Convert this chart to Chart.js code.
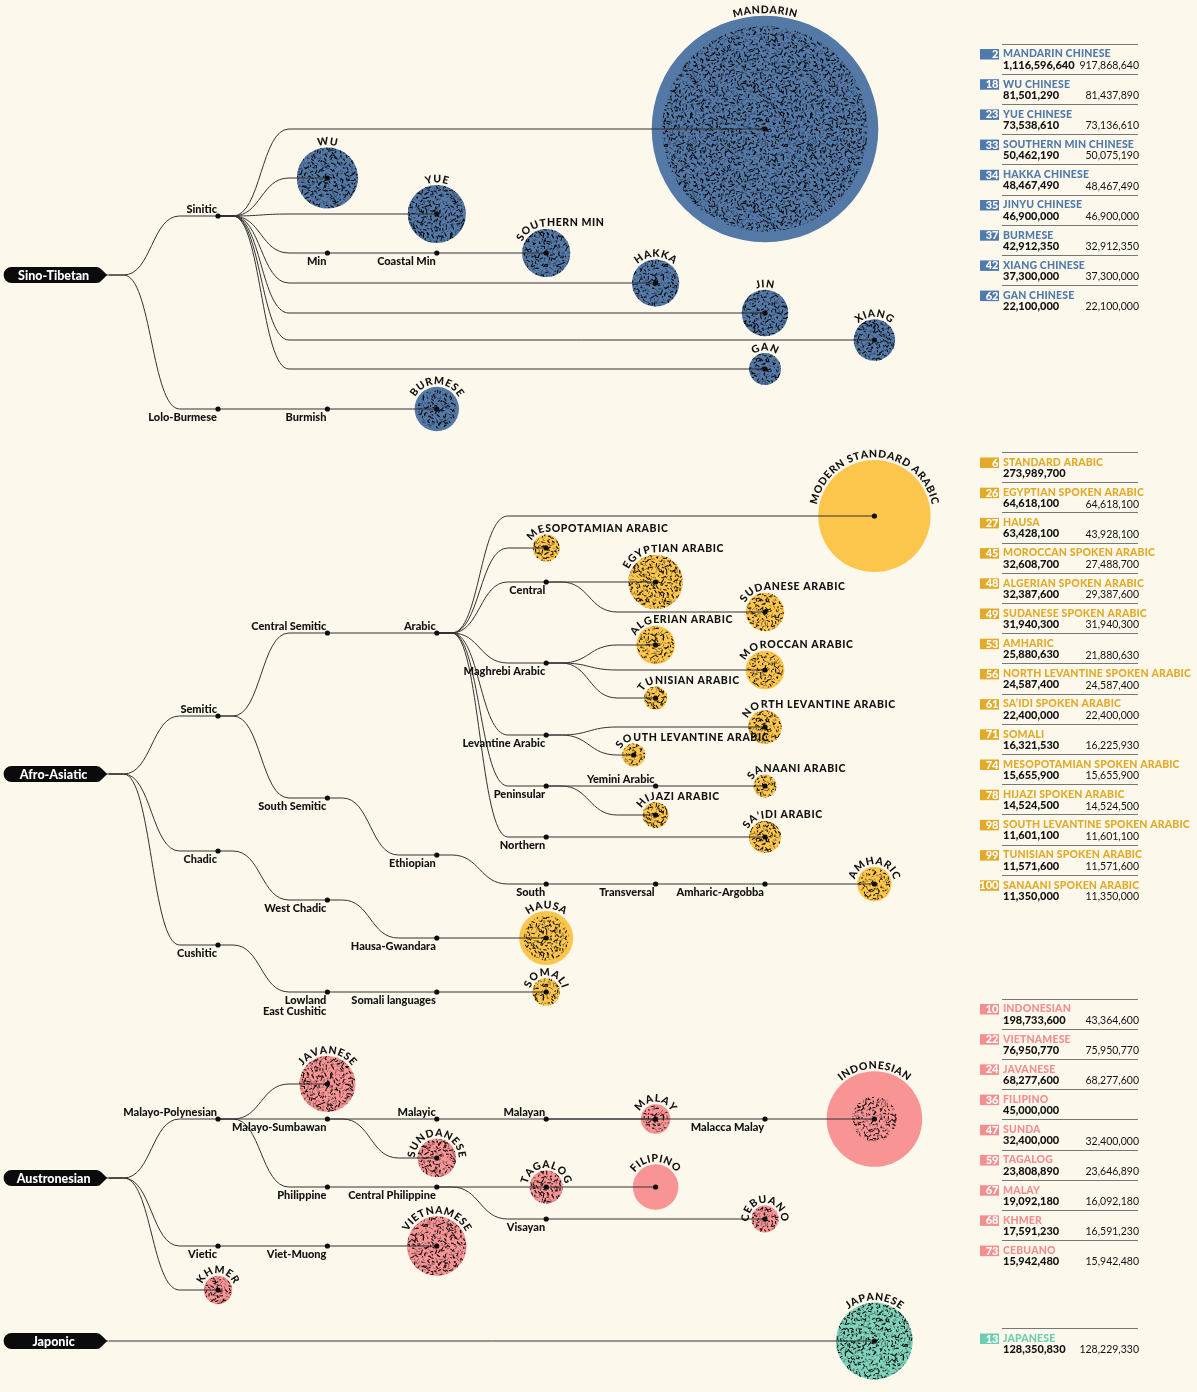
<!DOCTYPE html>
<html><head><meta charset="utf-8">
<script src="https://cdn.jsdelivr.net/npm/chart.js@4.4.1/dist/chart.umd.min.js"></script>
<style>
html,body{margin:0;padding:0;background:#fdf8ec;}
#wrap{width:1197px;height:1392px;position:relative;}
canvas{display:block;}
</style></head><body>
<div id="wrap"><canvas id="c" width="1197" height="1392"></canvas></div>
<script>
// ================= DATA =================
const FAMILIES = ['Sino-Tibetan', 'Afro-Asiatic', 'Austronesian', 'Japonic'];
const FAMILY_LEGEND_ROW = [43.5, 452, 998.5, 1328];

// languages, in legend order
const LANG_KEY = ['MANDARIN','WU','YUE','SOUTHERN MIN','HAKKA','JIN','BURMESE','XIANG','GAN',
 'MODERN STANDARD ARABIC','EGYPTIAN ARABIC','HAUSA','MOROCCAN ARABIC','ALGERIAN ARABIC','SUDANESE ARABIC','AMHARIC','NORTH LEVANTINE ARABIC','SA’IDI ARABIC','SOMALI','MESOPOTAMIAN ARABIC','HIJAZI ARABIC','SOUTH LEVANTINE ARABIC','TUNISIAN ARABIC','SANAANI ARABIC',
 'INDONESIAN','VIETNAMESE','JAVANESE','FILIPINO','SUNDANESE','TAGALOG','MALAY','KHMER','CEBUANO',
 'JAPANESE'];
const LANG_LEGEND = ['MANDARIN CHINESE','WU CHINESE','YUE CHINESE','SOUTHERN MIN CHINESE','HAKKA CHINESE','JINYU CHINESE','BURMESE','XIANG CHINESE','GAN CHINESE',
 'STANDARD ARABIC','EGYPTIAN SPOKEN ARABIC','HAUSA','MOROCCAN SPOKEN ARABIC','ALGERIAN SPOKEN ARABIC','SUDANESE SPOKEN ARABIC','AMHARIC','NORTH LEVANTINE SPOKEN ARABIC','SA’IDI SPOKEN ARABIC','SOMALI','MESOPOTAMIAN SPOKEN ARABIC','HIJAZI SPOKEN ARABIC','SOUTH LEVANTINE SPOKEN ARABIC','TUNISIAN SPOKEN ARABIC','SANAANI SPOKEN ARABIC',
 'INDONESIAN','VIETNAMESE','JAVANESE','FILIPINO','SUNDA','TAGALOG','MALAY','KHMER','CEBUANO',
 'JAPANESE'];
const LANG_FAMILY = [0,0,0,0,0,0,0,0,0,
 1,1,1,1,1,1,1,1,1,1,1,1,1,1,1,
 2,2,2,2,2,2,2,2,2,
 3];
const LANG_RANK = [2,18,23,33,34,35,37,42,62,
 6,26,27,45,48,49,53,56,61,71,74,78,98,99,100,
 10,22,24,36,47,59,67,68,73,
 13];
const LANG_TOTAL = [1116596640,81501290,73538610,50462190,48467490,46900000,42912350,37300000,22100000,
 273989700,64618100,63428100,32608700,32387600,31940300,25880630,24587400,22400000,16321530,15655900,14524500,11601100,11571600,11350000,
 198733600,76950770,68277600,45000000,32400000,23808890,19092180,17591230,15942480,
 128350830];
const LANG_L1 = [917868640,81437890,73136610,50075190,48467490,46900000,32912350,37300000,22100000,
 null,64618100,43928100,27488700,29387600,31940300,21880630,24587400,22400000,16225930,15655900,14524500,11601100,11571600,11350000,
 43364600,75950770,68277600,null,32400000,23646890,16092180,16591230,15942480,
 128229330];

// tree nodes: name, parent, column (tree depth slot), row, label kind
const NODE_NAME = [
 'Sino-Tibetan','Sinitic','MANDARIN','WU','YUE','Min','Coastal Min','SOUTHERN MIN','HAKKA','JIN','XIANG','GAN','Lolo-Burmese','Burmish','BURMESE',
 'Afro-Asiatic','Semitic','Central Semitic','Arabic','MODERN STANDARD ARABIC','MESOPOTAMIAN ARABIC','Central','EGYPTIAN ARABIC','SUDANESE ARABIC',
 'Maghrebi Arabic','ALGERIAN ARABIC','MOROCCAN ARABIC','TUNISIAN ARABIC','Levantine Arabic','NORTH LEVANTINE ARABIC','SOUTH LEVANTINE ARABIC',
 'Peninsular','Yemini Arabic','SANAANI ARABIC','HIJAZI ARABIC','Northern','SA’IDI ARABIC',
 'South Semitic','Ethiopian','South','Transversal','Amharic-Argobba','AMHARIC',
 'Chadic','West Chadic','Hausa-Gwandara','HAUSA','Cushitic','Lowland|East Cushitic','Somali languages','SOMALI',
 'Austronesian','Malayo-Polynesian','JAVANESE','Malayo-Sumbawan','Malayic','Malayan','MALAY','Malacca Malay','INDONESIAN','SUNDANESE',
 'Philippine','Central Philippine','TAGALOG','FILIPINO','Visayan','CEBUANO','Vietic','Viet-Muong','VIETNAMESE','KHMER',
 'Japonic','JAPANESE'];
const NODE_PARENT = [
 null,'Sino-Tibetan','Sinitic','Sinitic','Sinitic','Sinitic','Min','Coastal Min','Sinitic','Sinitic','Sinitic','Sinitic','Sino-Tibetan','Lolo-Burmese','Burmish',
 null,'Afro-Asiatic','Semitic','Central Semitic','Arabic','Arabic','Arabic','Central','Central',
 'Arabic','Maghrebi Arabic','Maghrebi Arabic','Maghrebi Arabic','Arabic','Levantine Arabic','Levantine Arabic',
 'Arabic','Peninsular','Yemini Arabic','Peninsular','Arabic','Northern',
 'Semitic','South Semitic','Ethiopian','South','Transversal','Amharic-Argobba',
 'Afro-Asiatic','Chadic','West Chadic','Hausa-Gwandara','Afro-Asiatic','Cushitic','Lowland|East Cushitic','Somali languages',
 null,'Austronesian','Malayo-Polynesian','Malayo-Polynesian','Malayo-Sumbawan','Malayic','Malayan','Malayan','Malacca Malay','Malayo-Sumbawan',
 'Malayo-Polynesian','Philippine','Central Philippine','TAGALOG','Central Philippine','Visayan','Austronesian','Vietic','Viet-Muong','Austronesian',
 null,'Japonic'];
const NODE_COL = [
 0,1,6,2,3,2,3,4,5,6,7,6,1,2,3,
 0,1,2,3,7,4,4,5,6,
 4,5,6,5,4,6,4.8,
 4,5,6,5,4,6,
 2,3,4,5,6,7,
 1,2,3,4,1,2,3,4,
 0,1,2,2,3,4,5,6,7,3,
 2,3,4,5,4,6,1,2,3,1,
 0,7];
const NODE_ROW = [
 275,216,129,178,214,253,253,253,283,313,340,369,409,409,409,
 774,716,633,633,516,548,582,582,612,
 663,645,670,698,735,727,755,
 786,786,786,815,837,837,
 798,855,884,884,884,884,
 851,900,938,938,945,992,992,992,
 1178,1119,1084,1119,1119,1119,1119,1119,1119,1158,
 1187,1187,1187,1187,1219,1219,1246,1246,1246,1290,
 1341,1341];
// label kind: r = root, a = above-left, b = below-left, l = leaf (curved name)
const NODE_LABEL = [
 'r','a','l','l','l','b','b','l','l','l','l','l','b','b','l',
 'r','a','a','a','l','l','b','l','l',
 'b','l','l','l','b','l','l',
 'b','a','l','l','b','l',
 'b','b','b','b','b','l',
 'b','b','b','l','b','b','b','l',
 'r','a','l','b','a','a','l','b','l','l',
 'b','b','l','l','b','l','b','b','l','l',
 'r','l'];

// ================= STYLE =================
const BG = '#fdf8ec';
const FAMILY_FILL = ['#5479a6', '#fcc54b', '#f99494', '#80d3ba'];
const FAMILY_TEXT = ['#4f7aab', '#e3aa28', '#f58e8e', '#6dcdb1'];
const MAX_R = 113.3;             // pixel radius of the largest total
const COL_PX0 = 108.6, COL_STEP = 109.4;
const W = 1197, H = 1392;
const FONT = 'Lato, "Open Sans", sans-serif';
const HEAVY = '900 ';

const maxTotal = Math.max(...LANG_TOTAL);
const radiusFor = v => MAX_R * Math.sqrt(v / maxTotal);
const langIndex = name => LANG_KEY.indexOf(name);
const nodeIndex = name => NODE_NAME.indexOf(name);
function familyOfNode(i) {
  let k = i;
  while (NODE_PARENT[k] !== null) k = nodeIndex(NODE_PARENT[k]);
  return FAMILIES.indexOf(NODE_NAME[k]);
}

// speckle texture for first-language speakers (jittered grid of short dashes)
function makeTexture() {
  const T = 120, cell = 3.1;
  const c = document.createElement('canvas');
  c.width = c.height = T;
  const g = c.getContext('2d');
  let s = 24681357;
  const rnd = () => { s = (Math.imul(s, 1103515245) + 12345) >>> 0; return s / 4294967296; };
  g.lineCap = 'butt';
  const n = Math.floor(T / cell);
  const step = T / n;
  for (let gy = 0; gy < n; gy++) {
    for (let gx = 0; gx < n; gx++) {
      const x = (gx + rnd()) * step, y = (gy + rnd()) * step;
      const a = rnd() * Math.PI, l = 1.6 + rnd() * 2.6;
      const dark = rnd() < 0.58;
      g.strokeStyle = dark ? 'rgba(0,0,0,0.95)' : 'rgba(15,22,40,0.5)';
      g.lineWidth = dark ? 1.05 : 1;
      for (const ox of [0, -T, T]) for (const oy of [0, -T, T]) {
        g.beginPath();
        g.moveTo(x + ox - Math.cos(a) * l / 2, y + oy - Math.sin(a) * l / 2);
        g.lineTo(x + ox + Math.cos(a) * l / 2, y + oy + Math.sin(a) * l / 2);
        g.stroke();
      }
    }
  }
  return g.createPattern(c, 'repeat');
}

const leafIdx = NODE_NAME.map((n, i) => i).filter(i => NODE_LABEL[i] === 'l');
const bubbleData = leafIdx.map(i => ({ x: NODE_COL[i], y: NODE_ROW[i], r: radiusFor(LANG_TOTAL[langIndex(NODE_NAME[i])]) }));
const bubbleColors = leafIdx.map(i => FAMILY_FILL[familyOfNode(i)]);
const l1Idx = leafIdx.filter(i => LANG_L1[langIndex(NODE_NAME[i])] !== null);
const textureData = l1Idx.map(i => ({ x: NODE_COL[i], y: NODE_ROW[i], r: radiusFor(LANG_L1[langIndex(NODE_NAME[i])]) }));
const dotData = NODE_NAME.map((n, i) => i).filter(i => NODE_LABEL[i] !== 'r').map(i => ({ x: NODE_COL[i], y: NODE_ROW[i] }));

// ================= DRAW HELPERS =================
function drawEdges(chart) {
  const xs = chart.scales.x, ys = chart.scales.y, ctx = chart.ctx;
  ctx.save();
  ctx.strokeStyle = '#333';
  ctx.lineWidth = 1;
  NODE_NAME.forEach((n, i) => {
    const p = NODE_PARENT[i];
    if (p === null) return;
    const j = nodeIndex(p);
    const x0 = xs.getPixelForValue(NODE_COL[j]), y0 = ys.getPixelForValue(NODE_ROW[j]);
    const x1 = xs.getPixelForValue(NODE_COL[i]), y1 = ys.getPixelForValue(NODE_ROW[i]);
    ctx.beginPath();
    ctx.moveTo(x0, y0);
    if (Math.abs(y1 - y0) < 0.5) {
      ctx.lineTo(x1, y1);
    } else {
      const a = x0 + 15, b = a + 56, m = (a + b) / 2;
      ctx.lineTo(a, y0);
      ctx.bezierCurveTo(m, y0, m, y1, b, y1);
      ctx.lineTo(x1, y1);
    }
    ctx.stroke();
  });
  ctx.restore();
}

function drawPill(ctx, tipX, y, text) {
  const left = tipX - 105, h = 8;
  ctx.save();
  ctx.fillStyle = '#0b0b0b';
  ctx.beginPath();
  ctx.moveTo(left + h, y - h);
  ctx.lineTo(tipX - 12, y - h);
  ctx.quadraticCurveTo(tipX - 9, y - h, tipX - 7, y - 5.5);
  ctx.lineTo(tipX - 2.5, y - 1);
  ctx.lineTo(tipX, y);
  ctx.lineTo(tipX - 2.5, y + 1);
  ctx.lineTo(tipX - 7, y + 5.5);
  ctx.quadraticCurveTo(tipX - 9, y + h, tipX - 12, y + h);
  ctx.lineTo(left + h, y + h);
  ctx.arc(left + h, y, h, Math.PI / 2, Math.PI * 1.5);
  ctx.closePath();
  ctx.fill();
  ctx.fillStyle = '#fff';
  ctx.font = HEAVY + '12.5px ' + FONT;
  ctx.textAlign = 'center';
  ctx.textBaseline = 'middle';
  ctx.fillText(text, left + 50, y + 0.5);
  ctx.restore();
}

function arcText(ctx, text, cx, cy, r) {
  const ls = 0.6;
  const R = r + 2.5;
  const chars = [...text];
  const ws = chars.map(ch => ctx.measureText(ch).width);
  const Wt = ws.reduce((s, w) => s + w, 0) + ls * (ws.length - 1);
  const span = Wt / R;
  const centered = text.indexOf(' ') < 0 || span < 3.1;
  const start = centered ? -Math.PI / 2 - span / 2 : -155 * Math.PI / 180;
  const arcLen = centered ? Infinity : (-Math.PI / 2 - start) * R;
  let s = 0;
  chars.forEach((ch, i) => {
    const m = s + ws[i] / 2;
    ctx.save();
    if (m < arcLen) {
      const a = start + m / R;
      ctx.translate(cx + R * Math.cos(a), cy + R * Math.sin(a));
      ctx.rotate(a + Math.PI / 2);
    } else {
      ctx.translate(cx + (m - arcLen), cy - R);
    }
    ctx.fillText(ch, 0, 0);
    ctx.restore();
    s += ws[i] + ls;
  });
}

function drawLabels(chart) {
  const xs = chart.scales.x, ys = chart.scales.y, ctx = chart.ctx;
  ctx.save();
  ctx.fillStyle = '#111';
  NODE_NAME.forEach((n, i) => {
    const x = xs.getPixelForValue(NODE_COL[i]), y = ys.getPixelForValue(NODE_ROW[i]);
    const kind = NODE_LABEL[i];
    if (kind === 'r') {
      drawPill(ctx, x, y, n);
    } else if (kind === 'a' || kind === 'b') {
      ctx.font = HEAVY + '11px ' + FONT;
      ctx.textAlign = 'right';
      ctx.textBaseline = 'middle';
      ctx.fillStyle = '#111';
      const lines = n.split('|');
      const y0 = kind === 'a' ? y - 7 : y + 8;
      lines.forEach((t, k) => ctx.fillText(t, x - 1, y0 + k * 11));
    } else {
      ctx.font = HEAVY + '10.5px ' + FONT;
      ctx.textAlign = 'center';
      ctx.textBaseline = 'alphabetic';
      ctx.fillStyle = '#111';
      const li = langIndex(n);
      arcText(ctx, n, x, y, radiusFor(LANG_TOTAL[li]));
    }
  });
  ctx.restore();
}

function drawLegend(chart) {
  const ys = chart.scales.y, ctx = chart.ctx;
  const fmt = v => v.toLocaleString('en-US');
  const counts = [0, 0, 0, 0];
  ctx.save();
  LANG_KEY.forEach((k, i) => {
    const f = LANG_FAMILY[i];
    const y0 = ys.getPixelForValue(FAMILY_LEGEND_ROW[f] + counts[f] * 30.2);
    counts[f]++;
    ctx.strokeStyle = '#777';
    ctx.lineWidth = 1;
    ctx.beginPath(); ctx.moveTo(1002, Math.round(y0) + 0.5); ctx.lineTo(1138, Math.round(y0) + 0.5); ctx.stroke();
    ctx.fillStyle = FAMILY_TEXT[f];
    ctx.fillRect(980, y0 + 5.5, 19, 10.5);
    ctx.fillStyle = '#fff';
    ctx.font = HEAVY + '11px ' + FONT;
    ctx.textAlign = 'right'; ctx.textBaseline = 'middle';
    ctx.fillText(String(LANG_RANK[i]), 998.5, y0 + 11);
    ctx.fillStyle = FAMILY_TEXT[f];
    ctx.textAlign = 'left';
    ctx.font = HEAVY + '10.5px ' + FONT;
    ctx.letterSpacing = '0.15px';
    ctx.fillText(LANG_LEGEND[i], 1003, y0 + 10.5);
    ctx.letterSpacing = '0px';
    ctx.fillStyle = '#111';
    ctx.font = HEAVY + '11px ' + FONT;
    ctx.fillText(fmt(LANG_TOTAL[i]), 1003, y0 + 21.5);
    if (LANG_L1[i] !== null) {
      ctx.font = '10.5px ' + FONT;
      ctx.textAlign = 'right';
      ctx.fillText(fmt(LANG_L1[i]), 1139, y0 + 22);
    }
  });
  ctx.restore();
}

const treePlugin = {
  id: 'tree',
  beforeDraw(chart) {
    const ctx = chart.ctx;
    ctx.save(); ctx.fillStyle = BG; ctx.fillRect(0, 0, chart.width, chart.height); ctx.restore();
  },
  beforeDatasetDraw(chart, args) {
    if (args.index === 2) drawEdges(chart);
  },
  afterDatasetsDraw(chart) {
    drawLabels(chart);
    drawLegend(chart);
  }
};

const xMin = -COL_PX0 / COL_STEP;
const xMax = xMin + W / COL_STEP;

new Chart(document.getElementById('c'), {
  type: 'bubble',
  data: {
    datasets: [
      { label: 'Total speakers', data: bubbleData, backgroundColor: bubbleColors, borderWidth: 0, order: 3, clip: false },
      { label: 'First-language speakers', data: textureData, backgroundColor: makeTexture(), borderWidth: 0, order: 2, clip: false },
      { label: 'Nodes', data: dotData, backgroundColor: '#0d0d0d', borderWidth: 0, radius: 2.6, order: 1, clip: false }
    ]
  },
  options: {
    responsive: false,
    animation: false,
    events: [],
    layout: { padding: 0, autoPadding: false },
    plugins: { legend: { display: false }, tooltip: { enabled: false } },
    scales: {
      x: { type: 'linear', display: false, min: xMin, max: xMax },
      y: { type: 'linear', display: false, min: 0, max: H, reverse: true }
    }
  },
  plugins: [treePlugin]
});
</script>
</body></html>
